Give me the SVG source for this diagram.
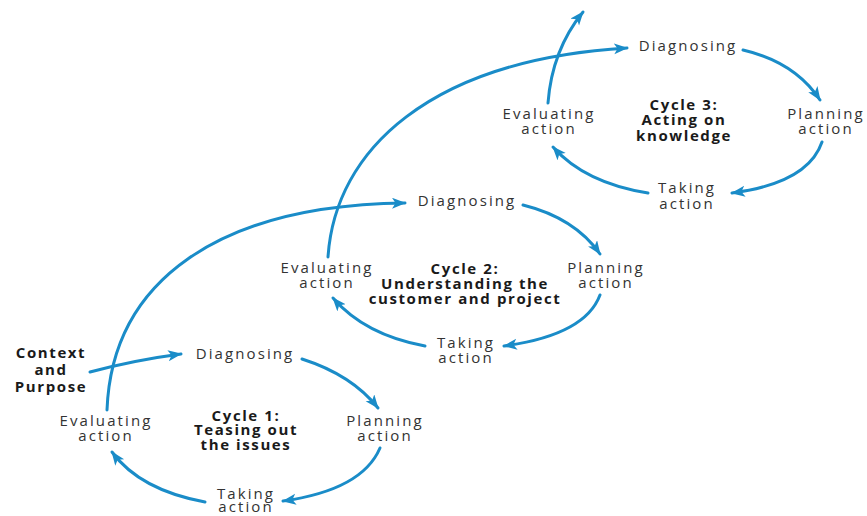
<svg xmlns="http://www.w3.org/2000/svg" width="867" height="516" viewBox="0 0 867 516">
<defs>
<marker id="ah" markerUnits="userSpaceOnUse" markerWidth="16" markerHeight="12" refX="13" refY="5.5" orient="auto">
<path d="M0,0 L14,5.5 L0,11 L3.5,5.5 z" fill="#1a8cc8"/>
</marker>
<style>
.c{fill:none;stroke:#1a8cc8;stroke-width:3;stroke-linecap:round;marker-end:url(#ah)}
text{font-family:"Open Sans","Noto Sans",sans-serif;font-size:15px;letter-spacing:2.1px;text-anchor:middle;fill:#333}
.b{font-weight:bold;fill:#1a1a1a;letter-spacing:1.6px}
</style>
</defs>
<rect width="867" height="516" fill="#fff"/>
<g id="connectors">
<path class="c" d="M90,372 Q135,360 181,354"/>
<path class="c" d="M302,359 Q352,375 378,408"/>
<path class="c" d="M380,448 Q362,490 283,501"/>
<path class="c" d="M205,502 Q140,490 112,452"/>
<path class="c" d="M107,410 C112,280 220,205 405,203"/>
<path class="c" d="M523,205 Q575,218 600,254"/>
<path class="c" d="M600,295 Q585,335 504,346"/>
<path class="c" d="M425,346 Q365,335 333,298"/>
<path class="c" d="M328,257 C335,150 430,60 627,48"/>
<path class="c" d="M743,50 Q795,62 820,100"/>
<path class="c" d="M822,142 Q808,183 732,193"/>
<path class="c" d="M648,193 Q585,183 553,147"/>
<path class="c" d="M548,103 Q552,50 583,12"/>
</g>
<g id="context"><text class="b" x="51" y="358">Context</text><text class="b" x="51" y="375">and</text><text class="b" x="51" y="392">Purpose</text></g>
<g id="c1-diagnosing"><text x="245" y="359">Diagnosing</text></g>
<g id="c1-planning"><text x="385" y="426">Planning</text><text x="385" y="441">action</text></g>
<g id="c1-taking"><text x="246" y="499">Taking</text><text x="246" y="512">action</text></g>
<g id="c1-evaluating"><text x="106" y="426">Evaluating</text><text x="106" y="441">action</text></g>
<g id="c1-title"><text class="b" x="246" y="421">Cycle 1:</text><text class="b" x="246" y="435">Teasing out</text><text class="b" x="246" y="450">the issues</text></g>
<g id="c2-diagnosing"><text x="467" y="206">Diagnosing</text></g>
<g id="c2-planning"><text x="606" y="273">Planning</text><text x="606" y="288">action</text></g>
<g id="c2-taking"><text x="466" y="348">Taking</text><text x="466" y="363">action</text></g>
<g id="c2-evaluating"><text x="327" y="273">Evaluating</text><text x="327" y="288">action</text></g>
<g id="c2-title"><text class="b" x="465" y="274">Cycle 2:</text><text class="b" x="465" y="289">Understanding the</text><text class="b" x="465" y="304">customer and project</text></g>
<g id="c3-diagnosing"><text x="688" y="51">Diagnosing</text></g>
<g id="c3-planning"><text x="826" y="119">Planning</text><text x="826" y="134">action</text></g>
<g id="c3-taking"><text x="687" y="193">Taking</text><text x="687" y="209">action</text></g>
<g id="c3-evaluating"><text x="549" y="119">Evaluating</text><text x="549" y="134">action</text></g>
<g id="c3-title"><text class="b" x="684" y="110">Cycle 3:</text><text class="b" x="684" y="125">Acting on</text><text class="b" x="684" y="141">knowledge</text></g>
</svg>
